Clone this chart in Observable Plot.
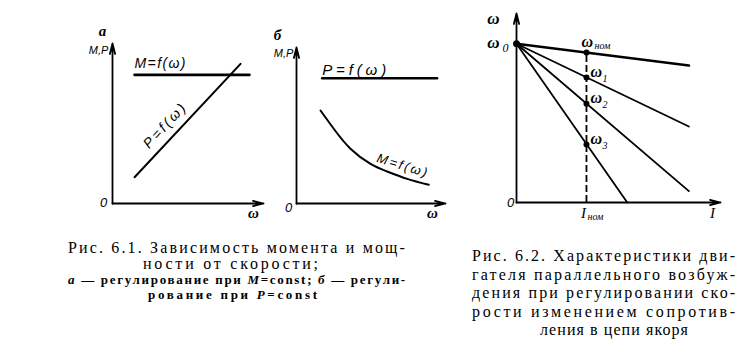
<!DOCTYPE html>
<html><head><meta charset="utf-8">
<script src="https://cdn.jsdelivr.net/npm/d3@7"></script>
<script src="https://cdn.jsdelivr.net/npm/@observablehq/plot@0.6"></script>
<style>
body{margin:0;background:#fff}
#fig{position:relative;width:755px;height:352px;background:#fff;overflow:hidden;font-family:"Liberation Serif","Times New Roman",serif;color:#000}
.cap{position:absolute;line-height:18px;font-size:16px;white-space:nowrap}
.cap span{display:inline-block;white-space:nowrap}
.small{font-size:13px;font-weight:bold}
</style></head><body><div id="fig"></div>
<script>
// ---- Fig 6.1 a : M = const ----
const aMomega = [1.46, 9.07];
const aM = [8.04, 8.04];
const aPomega = [1.46, 8.48];
const aP = [1.64, 8.73];
// ---- Fig 6.1 б : P = const ----
const bPomega = [1.72, 9.44];
const bP = [8.03, 8.03];
const bMomega = [1.61, 2.50, 3.62, 4.97, 6.09, 7.43, 8.88];
const bM = [5.96, 4.79, 3.51, 2.54, 2.05, 1.58, 1.20];
// ---- Fig 6.2 : speed characteristics ----
const omega0 = 8.4;
const seriesNames = ["ном", "1", "2", "3"];
const endI = [8.45, 8.45, 8.45, 5.43];
const endOmega = [7.25, 4.02, 0.60, 0];
const Inom = 3.43;
const omegaAtInom = [7.93, 6.62, 5.22, 3.07];
const axisMax = 10;

const fig = document.getElementById("fig");
const axes = [{x1: 0, y1: 0, x2: axisMax, y2: 0}, {x1: 0, y1: 0, x2: 0, y2: axisMax}];
const serif = "Liberation Serif";
const sans = "Liberation Sans";

function axisMarks() {
  return Plot.arrow(axes, {x1: "x1", y1: "y1", x2: "x2", y2: "y2", stroke: "black", strokeWidth: 1.8, headLength: 9, headAngle: 28});
}
function lbl(x, y, t, opts) {
  return Plot.text([{x, y, t}], {x: "x", y: "y", text: "t", fill: "black", ...opts});
}
function panel(left, width, mL, mR, mT, mB, marks, stretch) {
  const svg = Plot.plot({
    width, height: 230, marginLeft: mL, marginRight: mR, marginTop: mT, marginBottom: mB,
    x: {domain: [0, axisMax], axis: null}, y: {domain: [0, axisMax], axis: null},
    style: {background: "transparent", overflow: "visible"},
    marks
  });
  svg.style.position = "absolute"; svg.style.left = left + "px"; svg.style.top = "0px";
  d3.select(svg).selectAll("text").each(function() {
    const w = stretch && stretch[this.textContent];
    if (w) { this.setAttribute("textLength", w); this.setAttribute("lengthAdjust", "spacing"); }
  });
  fig.append(svg);
}

// Panel a
const aMrows = aMomega.map((w, i) => ({w, v: aM[i]}));
const aProws = aPomega.map((w, i) => ({w, v: aP[i]}));
panel(0, 265, 112, 2, 43, 27, [
  axisMarks(),
  Plot.line(aMrows, {x: "w", y: "v", stroke: "black", strokeWidth: 2.7}),
  Plot.line(aProws, {x: "w", y: "v", stroke: "black", strokeWidth: 2}),
  lbl(0, axisMax, "а", {dx: -10, dy: -12, fontFamily: serif, fontStyle: "italic", fontWeight: "bold", fontSize: 15}),
  lbl(0, axisMax, "M,P", {dx: -14, dy: 7, fontFamily: sans, fontStyle: "italic", fontSize: 11}),
  lbl(0, 0, "0", {dx: -9, dy: -1, fontFamily: sans, fontStyle: "italic", fontSize: 13}),
  lbl(axisMax, 0, "ω", {dx: -10, dy: 10, fontFamily: serif, fontStyle: "italic", fontWeight: "bold", fontSize: 15}),
  lbl(aMomega[0], aM[0], "M=f(ω)", {dy: -11, textAnchor: "start", fontFamily: sans, fontStyle: "italic", fontSize: 14}),
  lbl(3.44, 4.84, "P=f(ω)", {rotate: -47, fontFamily: sans, fontStyle: "italic", fontSize: 14})
], {"M=f(ω)": 51, "P=f(ω)": 55});

// Panel б
const bProws = bPomega.map((w, i) => ({w, v: bP[i]}));
const bMrows = bMomega.map((w, i) => ({w, v: bM[i]}));
panel(265, 215, 31, 35, 47, 27, [
  axisMarks(),
  Plot.line(bProws, {x: "w", y: "v", stroke: "black", strokeWidth: 2.4}),
  Plot.line(bMrows, {x: "w", y: "v", stroke: "black", strokeWidth: 2, curve: "natural"}),
  lbl(0, axisMax, "б", {dx: -19, dy: -12, fontFamily: serif, fontStyle: "italic", fontWeight: "bold", fontSize: 15}),
  lbl(0, axisMax, "M,P", {dx: -13, dy: 6, fontFamily: sans, fontStyle: "italic", fontSize: 11}),
  lbl(0, 0, "0", {dx: -8, dy: 4, fontFamily: sans, fontStyle: "italic", fontSize: 13}),
  lbl(axisMax, 0, "ω", {dx: -13, dy: 10, fontFamily: serif, fontStyle: "italic", fontWeight: "bold", fontSize: 15}),
  lbl(bPomega[0], bP[0], "P=f(ω)", {dy: -8, textAnchor: "start", fontFamily: sans, fontStyle: "italic", fontSize: 15}),
  lbl(7.08, 2.44, "M=f(ω)", {rotate: 17, fontFamily: sans, fontStyle: "italic", fontSize: 13})
], {"P=f(ω)": 64, "M=f(ω)": 52});

// Panel 6.2
const lineRows = seriesNames.flatMap((s, i) => [{s, I: 0, w: omega0}, {s, I: endI[i], w: endOmega[i]}]);
const ptRows = seriesNames.map((s, i) => ({s, I: Inom, w: omegaAtInom[i]}));
const wLab = {fontFamily: serif, fontStyle: "italic", fontWeight: "bold", fontSize: 16};
const subLab = {fontFamily: serif, fontStyle: "italic", fontSize: 10, textAnchor: "start"};
panel(480, 275, 36, 35, 13, 28, [
  axisMarks(),
  Plot.line(lineRows.filter(d => d.s === seriesNames[0]), {x: "I", y: "w", stroke: "black", strokeWidth: 2.7}),
  Plot.line(lineRows.filter(d => d.s !== seriesNames[0]), {x: "I", y: "w", z: "s", stroke: "black", strokeWidth: 1.8}),
  Plot.ruleX([Inom], {y1: 0, y2: omegaAtInom[0], stroke: "black", strokeWidth: 1.8, strokeDasharray: "7,3"}),
  Plot.dot(ptRows, {x: "I", y: "w", r: 3, fill: "black"}),
  Plot.dot([{I: 0, w: omega0}], {x: "I", y: "w", r: 3.5, fill: "black"}),
  Plot.text(ptRows.filter(d => d.s === seriesNames[0]), {x: "I", y: "w", text: () => "ω", dx: -5, dy: -11, textAnchor: "start", ...wLab}),
  Plot.text(ptRows.filter(d => d.s === seriesNames[0]), {x: "I", y: "w", text: "s", dx: 8, dy: -7, ...subLab}),
  Plot.text(ptRows.filter(d => d.s !== seriesNames[0]), {x: "I", y: "w", text: () => "ω", dx: 4, dy: -6, textAnchor: "start", ...wLab}),
  Plot.text(ptRows.filter(d => d.s !== seriesNames[0]), {x: "I", y: "w", text: "s", dx: 16, dy: 1, ...subLab, fontSize: 10}),
  lbl(0, axisMax, "ω", {dx: -23, dy: 5, ...wLab, fontSize: 17}),
  lbl(0, omega0, "ω", {dx: -23, dy: -1, ...wLab, fontSize: 17}),
  lbl(0, omega0, "0", {dx: -14, dy: 4, ...subLab, fontSize: 12}),
  lbl(0, 0, "0", {dx: -6, dy: 0, fontFamily: sans, fontStyle: "italic", fontSize: 13}),
  lbl(axisMax, 0, "I", {dx: -8, dy: 11, fontFamily: serif, fontStyle: "italic", fontSize: 15}),
  lbl(Inom, 0, "I", {dx: -3, dy: 11, fontFamily: serif, fontStyle: "italic", fontSize: 15}),
  lbl(Inom, 0, "ном", {dx: 1, dy: 14, ...subLab})
]);

// Captions: [left edge, right edge, centre y, class, html]
const caps = [
  [68, 405, 248, "", "Рис. 6.1. Зависимость момента и мощ-"],
  [143, 318, 264, "", "ности от скорости;"],
  [68, 405, 280, "small", "<i>а</i> — регулирование при <i>M</i>=const; <i>б</i> — регули-"],
  [148, 317, 295, "small", "рование при <i>P</i>=const"],
  [472, 735, 256, "", "Рис. 6.2. Характеристики дви-"],
  [472, 735, 275, "", "гателя параллельного возбуж-"],
  [472, 735, 293, "", "дения при регулировании ско-"],
  [472, 735, 312, "", "рости изменением сопротив-"],
  [540, 688, 330, "", "ления в цепи якоря"]
];
for (const [x0, x1, cy, cls, html] of caps) {
  const d = document.createElement("div");
  d.className = "cap " + cls;
  d.style.left = x0 + "px"; d.style.top = (cy - 9) + "px";
  const s = document.createElement("span");
  s.innerHTML = html;
  d.append(s);
  fig.append(d);
  const w0 = s.getBoundingClientRect().width;
  const n = s.textContent.length;
  const ls = Math.max(0, (x1 - x0 - w0) / (n - 1));
  s.style.letterSpacing = ls.toFixed(2) + "px";
}
</script></body></html>
